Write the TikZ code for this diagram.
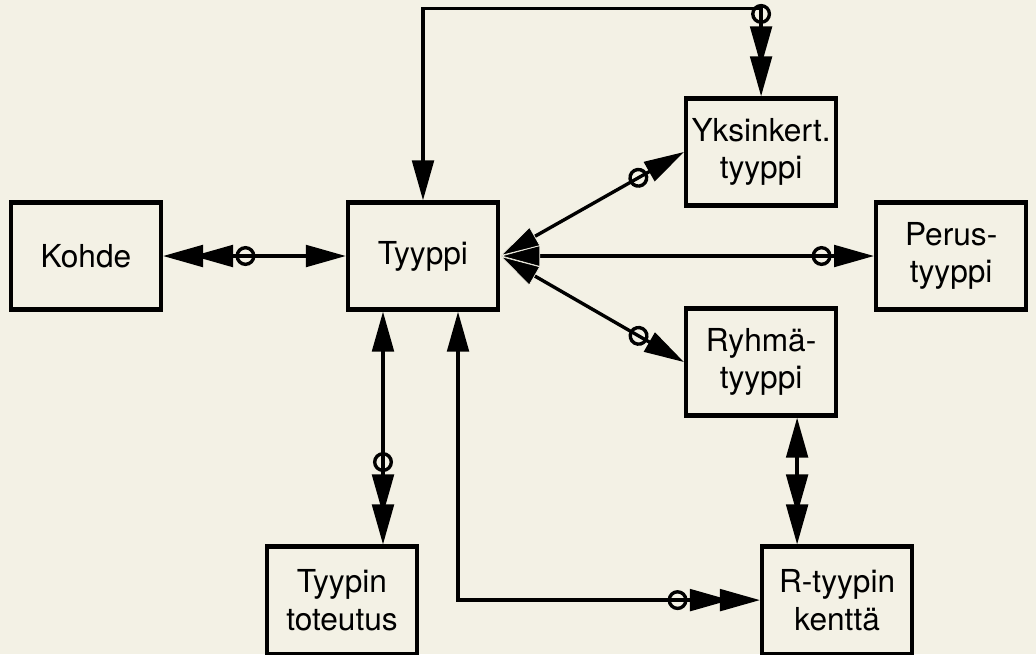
\documentclass[tikz,border=0pt]{standalone}
\usepackage{fontspec}
\setmainfont{TeX Gyre Heros}
\usetikzlibrary{arrows.meta,positioning}
\definecolor{paper}{RGB}{243,241,229}

\begin{document}
\begin{tikzpicture}[x=0.025cm, y=-0.025cm, font=\fontsize{22.5}{26.5}\selectfont,
  Tri/.tip={Triangle[length=1cm,width=0.54cm]},
  TriW/.tip={Triangle[length=1cm,width=0.54cm,fill=black,color=paper,line width=0.5pt]},
  Tri2/.tip={Triangle[length=1cm,width=0.54cm,sep=-0.25cm]},
  Ring/.tip={Circle[open,length=0.5cm,width=0.5cm,sep=0.06cm]}]
\tikzset{entity/.style={rectangle, draw, line width=3pt, align=center,
                        minimum width=3.75cm, minimum height=2.675cm},
         link/.style={line width=2.4pt}}
\useasboundingbox (0,0) rectangle (1036,654);
\fill[paper] (0,0) rectangle (1036,654);

\node(tyyppi) [entity] at (423,256) {Tyyppi};

\node(kohde) [entity, left of=tyyppi, node distance=8.425cm] {Kohde};

\node(perus) [entity, right of=tyyppi, node distance=13.2cm]
  {Perus-\\tyyppi};

\node(yksink) [entity, right of=tyyppi, node distance=8.45cm, yshift=2.6cm]
  {Yksinkert.\\tyyppi};

\node(ryhma) [entity, right of=tyyppi, node distance=8.45cm, yshift=-2.65cm]
  {Ryhmä-\\tyyppi};

\node(toteutus) [entity, below of=tyyppi, node distance=8.6cm, xshift=-2.025cm]
  {Tyypin\\toteutus};

\node(kentta) [entity, below of=ryhma, node distance=5.95cm, xshift=1.9cm]
  {R-tyypin\\kenttä};

\draw[link, {Tri[]}-{Ring[] Tri2[] Tri[]}] (tyyppi.west) -- (kohde.east);
\draw[link, {Tri[]}-{Ring[] Tri2[] Tri[]}] (tyyppi.north) -- ++(0,-192) -| (yksink.north);
\draw[link, {TriW[]}-{Ring[] Tri[]}] (tyyppi.east) -- (perus.west);
\draw[link, {TriW[]}-{Ring[] Tri[]}] (tyyppi.east) -- (yksink.west);
\draw[link, {TriW[]}-{Ring[] Tri[]}] (tyyppi.east) -- (ryhma.west);
\draw[link, {Tri[]}-{Ring[] Tri2[] Tri[]}] ([xshift=-1cm]tyyppi.south)
  -- ([xshift=-1cm]tyyppi.south |- toteutus.north);
\draw[link, {Tri[]}-{Ring[] Tri2[] Tri[]}] ([xshift=0.875cm]tyyppi.south) |- (kentta.west);
\draw[link, {Tri[]}-{Tri2[] Tri[]}] ([xshift=0.9cm]ryhma.south)
  -- ([xshift=0.9cm]ryhma.south |- kentta.north);

\end{tikzpicture}
\end{document}
